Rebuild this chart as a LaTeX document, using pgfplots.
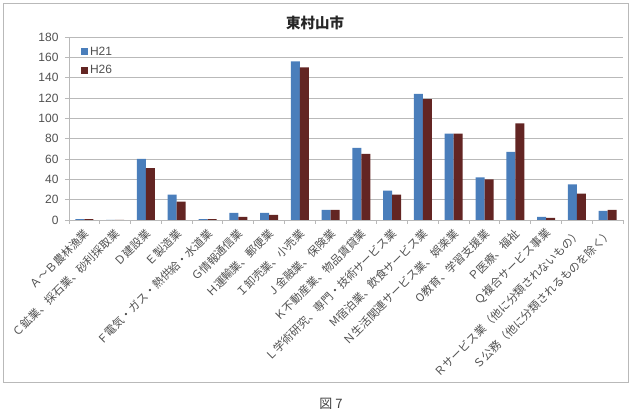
\documentclass[border=0pt]{standalone}
\usepackage{fontspec}
\setmainfont{Liberation Sans}
\newfontfamily\jp{Noto Sans CJK JP}
\usepackage{pgfplots}
\pgfplotsset{compat=1.18}
\definecolor{cHa}{RGB}{74,126,187}
\definecolor{cHb}{RGB}{99,37,35}
\definecolor{txt}{RGB}{80,80,80}
\definecolor{gridc}{RGB}{185,185,185}
\begin{document}
\begin{tikzpicture}
\useasboundingbox (0pt,0pt) rectangle (630pt,411pt);
\draw[gridc, line width=0.9pt] (3pt,29pt) rectangle (628pt,408pt);
\node[font=\jp\bfseries\fontsize{14.5}{14.5}\selectfont, text=black!85] at (315pt,388pt) {東村山市};
\node[font=\jp\fontsize{13}{13}\selectfont, text=black!75, inner sep=1pt] at (331pt,7.5pt) {図 7};
\begin{axis}[
  at={(69pt,191pt)}, anchor=south west,
  scale only axis, width=554pt, height=183pt,
  ybar=0pt, bar width=9pt,
  ymin=0, ymax=180, ytick={0,20,...,180},
  xmin=-0.5, xmax=17.5,
  xtick={0,...,17},
  xticklabels={Ａ～Ｂ農林漁業,Ｃ鉱業、採石業、砂利採取業,Ｄ建設業,Ｅ製造業,Ｆ電気・ガス・熱供給・水道業,Ｇ情報通信業,Ｈ運輸業、郵便業,Ｉ卸売業、小売業,Ｊ金融業、保険業,Ｋ不動産業、物品賃貸業,Ｌ学術研究、専門・技術サービス業,M宿泊業、飲食サービス業,Ｎ生活関連サービス業、娯楽業,O教育、学習支援業,Ｐ医療、福祉,Ｑ複合サービス事業,Ｒサービス業（他に分類されないもの）,Ｓ公務（他に分類されるものを除く）},
  minor xtick={-0.5,0.5,...,17.5},
  major x tick style={draw=none},
  axis lines*=left,
  axis line style={gridc, line width=0.8pt},
  tick style={gridc, line width=0.8pt},
  tick align=outside,
  major tick length=4pt, minor tick length=4pt,
  ymajorgrids, grid style={gridc, line width=0.8pt},
  /pgf/number format/assume math mode=true,
  yticklabel style={font=\fontsize{12}{12}\selectfont, text=txt, xshift=-3pt},
  xticklabel style={font=\jp\fontsize{11.2}{11.2}\selectfont, text=txt, rotate=45, anchor=east, xshift=0pt, yshift=-7pt},
  legend style={at={(0.016,0.97)}, anchor=north west, draw=none, fill=none,
    font=\fontsize{12}{12}\selectfont, text=txt, row sep=5pt,
    legend cell align=left},
  legend image code/.code={\fill[#1] (0pt,-3.5pt) rectangle (7pt,3.5pt);},
]
\addplot[fill=cHa, draw=none] coordinates {(0,0.8) (1,0) (2,60) (3,25) (4,0.8) (5,7) (6,7) (7,156) (8,10) (9,71) (10,29) (11,124) (12,85) (13,42) (14,67) (15,3) (16,35) (17,9)};
\addplot[fill=cHb, draw=none] coordinates {(0,0.8) (1,0) (2,51) (3,18) (4,0.8) (5,3) (6,5) (7,150) (8,10) (9,65) (10,25) (11,119) (12,85) (13,40) (14,95) (15,2) (16,26) (17,10)};
\legend{H21,H26}
\end{axis}
\end{tikzpicture}
\end{document}
